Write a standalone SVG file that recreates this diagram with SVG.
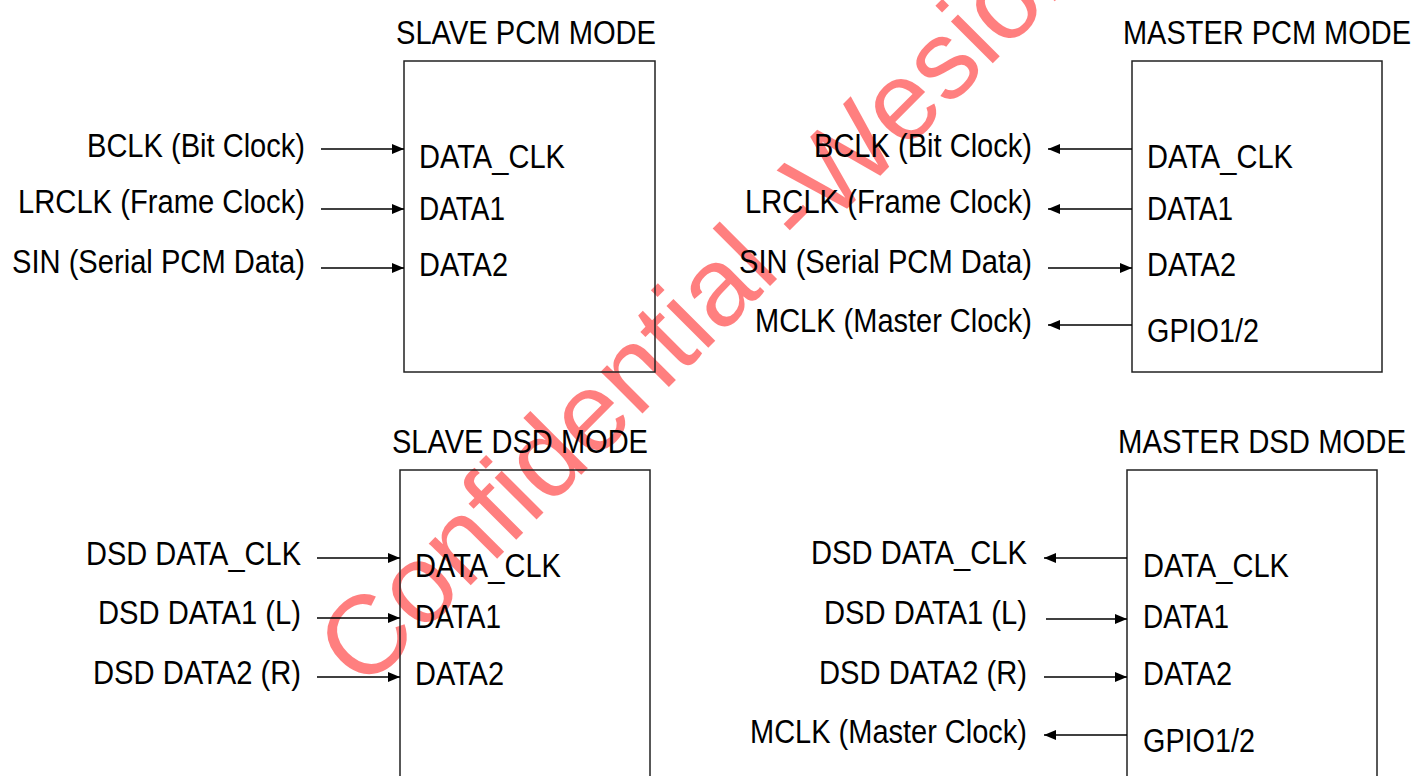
<svg xmlns="http://www.w3.org/2000/svg" width="1416" height="776" viewBox="0 0 1416 776">
<style>
  .t { font-family: "Liberation Sans", Arial, sans-serif; font-size: 33px; fill: #000; }
  .r { text-anchor: end; }
  .box { fill: none; stroke: #222; stroke-width: 1.5; }
  .c { stroke: #000; stroke-width: 1.5; fill: none; marker-end: url(#ah); }
  .wm { font-family: "Liberation Sans", Arial, sans-serif; font-size: 112px; fill: #ff0000; fill-opacity: 0.5; }
</style>
<defs>
  <marker id="ah" markerUnits="userSpaceOnUse" markerWidth="12" markerHeight="10" refX="12" refY="5" orient="auto">
    <path d="M0,0 L12,5 L0,10 z" fill="#000"/>
  </marker>
</defs>
<rect width="1416" height="776" fill="#fff"/>
<text class="wm" x="364" y="692" transform="rotate(-45 364 692)">Confidential -Wesion</text>

<g id="slave-pcm">
  <text class="t" x="396" y="44" textLength="260" lengthAdjust="spacingAndGlyphs">SLAVE PCM MODE</text>
  <rect class="box" x="404" y="61" width="251" height="311"/>
  <text class="t" x="419" y="168" textLength="146" lengthAdjust="spacingAndGlyphs">DATA_CLK</text>
  <text class="t" x="419" y="220" textLength="86" lengthAdjust="spacingAndGlyphs">DATA1</text>
  <text class="t" x="419" y="276" textLength="89" lengthAdjust="spacingAndGlyphs">DATA2</text>
  <text class="t r" x="305" y="157" textLength="218" lengthAdjust="spacingAndGlyphs">BCLK (Bit Clock)</text>
  <text class="t r" x="305" y="213" textLength="287" lengthAdjust="spacingAndGlyphs">LRCLK (Frame Clock)</text>
  <text class="t r" x="305" y="273" textLength="293" lengthAdjust="spacingAndGlyphs">SIN (Serial PCM Data)</text>
</g>

<g id="master-pcm">
  <text class="t" x="1123" y="44" textLength="288" lengthAdjust="spacingAndGlyphs">MASTER PCM MODE</text>
  <rect class="box" x="1132" y="61" width="250" height="311"/>
  <text class="t" x="1147" y="168" textLength="146" lengthAdjust="spacingAndGlyphs">DATA_CLK</text>
  <text class="t" x="1147" y="220" textLength="86" lengthAdjust="spacingAndGlyphs">DATA1</text>
  <text class="t" x="1147" y="276" textLength="89" lengthAdjust="spacingAndGlyphs">DATA2</text>
  <text class="t" x="1147" y="342" textLength="112" lengthAdjust="spacingAndGlyphs">GPIO1/2</text>
  <text class="t r" x="1032" y="157" textLength="218" lengthAdjust="spacingAndGlyphs">BCLK (Bit Clock)</text>
  <text class="t r" x="1032" y="213" textLength="287" lengthAdjust="spacingAndGlyphs">LRCLK (Frame Clock)</text>
  <text class="t r" x="1032" y="273" textLength="293" lengthAdjust="spacingAndGlyphs">SIN (Serial PCM Data)</text>
  <text class="t r" x="1032" y="332" textLength="277" lengthAdjust="spacingAndGlyphs">MCLK (Master Clock)</text>
</g>

<g id="slave-dsd">
  <text class="t" x="392" y="453" textLength="256" lengthAdjust="spacingAndGlyphs">SLAVE DSD MODE</text>
  <rect class="box" x="400" y="470" width="250" height="320"/>
  <text class="t" x="415" y="577" textLength="146" lengthAdjust="spacingAndGlyphs">DATA_CLK</text>
  <text class="t" x="415" y="628" textLength="86" lengthAdjust="spacingAndGlyphs">DATA1</text>
  <text class="t" x="415" y="685" textLength="89" lengthAdjust="spacingAndGlyphs">DATA2</text>
  <text class="t r" x="301" y="565" textLength="215" lengthAdjust="spacingAndGlyphs">DSD DATA_CLK</text>
  <text class="t r" x="301" y="624" textLength="203" lengthAdjust="spacingAndGlyphs">DSD DATA1 (L)</text>
  <text class="t r" x="301" y="684" textLength="208" lengthAdjust="spacingAndGlyphs">DSD DATA2 (R)</text>
</g>

<g id="master-dsd">
  <text class="t" x="1118" y="453" textLength="288" lengthAdjust="spacingAndGlyphs">MASTER DSD MODE</text>
  <rect class="box" x="1127" y="470" width="250" height="320"/>
  <text class="t" x="1143" y="577" textLength="146" lengthAdjust="spacingAndGlyphs">DATA_CLK</text>
  <text class="t" x="1143" y="628" textLength="86" lengthAdjust="spacingAndGlyphs">DATA1</text>
  <text class="t" x="1143" y="685" textLength="89" lengthAdjust="spacingAndGlyphs">DATA2</text>
  <text class="t" x="1143" y="752" textLength="112" lengthAdjust="spacingAndGlyphs">GPIO1/2</text>
  <text class="t r" x="1027" y="564" textLength="216" lengthAdjust="spacingAndGlyphs">DSD DATA_CLK</text>
  <text class="t r" x="1027" y="624" textLength="203" lengthAdjust="spacingAndGlyphs">DSD DATA1 (L)</text>
  <text class="t r" x="1027" y="684" textLength="208" lengthAdjust="spacingAndGlyphs">DSD DATA2 (R)</text>
  <text class="t r" x="1027" y="743" textLength="277" lengthAdjust="spacingAndGlyphs">MCLK (Master Clock)</text>
</g>

<g id="connectors">
  <line class="c" x1="321" y1="149" x2="404" y2="149"/>
  <line class="c" x1="321" y1="209" x2="404" y2="209"/>
  <line class="c" x1="321" y1="268" x2="404" y2="268"/>

  <line class="c" x1="1132" y1="149" x2="1048" y2="149"/>
  <line class="c" x1="1132" y1="209" x2="1048" y2="209"/>
  <line class="c" x1="1048" y1="268" x2="1132" y2="268"/>
  <line class="c" x1="1132" y1="325" x2="1048" y2="325"/>

  <line class="c" x1="317" y1="558" x2="400" y2="558"/>
  <line class="c" x1="317" y1="618" x2="400" y2="618"/>
  <line class="c" x1="317" y1="677" x2="400" y2="677"/>

  <line class="c" x1="1127" y1="558" x2="1044" y2="558"/>
  <line class="c" x1="1046" y1="619" x2="1127" y2="619"/>
  <line class="c" x1="1044" y1="677" x2="1127" y2="677"/>
  <line class="c" x1="1127" y1="735" x2="1044" y2="735"/>
</g>
</svg>
